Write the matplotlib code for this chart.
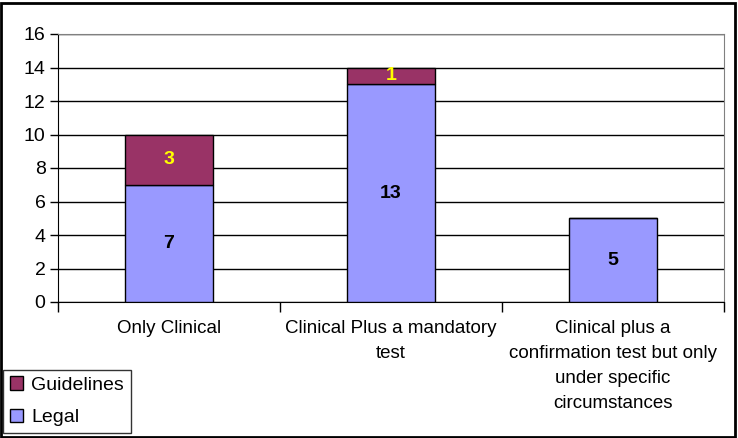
import matplotlib
matplotlib.use("Agg")
import matplotlib.pyplot as plt
from matplotlib.patches import Rectangle

plt.rcParams['font.family'] = ['Liberation Sans', 'DejaVu Sans']

categories = ["Only Clinical", "Clinical Plus a mandatory\ntest",
              "Clinical plus a\nconfirmation test but only\nunder specific\ncircumstances"]
legal = [7, 13, 5]
guidelines = [3, 1, 0]
yticks = [0, 2, 4, 6, 8, 10, 12, 14, 16]

W, H = 738, 438
fig = plt.figure(figsize=(W/100, H/100), dpi=100)
ax = fig.add_axes([58/W, 1-302/H, (724-58)/W, (302-34)/H])

x = list(range(len(categories)))
c_legal = '#9999FF'
c_guid = '#993366'
ax.bar(x, legal, width=0.4, color=c_legal, edgecolor='black', linewidth=1, label='Legal', zorder=3)
ax.bar(x, guidelines, width=0.4, bottom=legal, color=c_guid, edgecolor='black', linewidth=1, label='Guidelines', zorder=3)

for i in x:
    if legal[i]:
        ax.text(i, legal[i]/2, str(legal[i]), ha='center', va='center', fontsize=14, fontweight='bold', color='black', zorder=4)
    if guidelines[i]:
        ax.text(i, legal[i] + guidelines[i]/2, str(guidelines[i]), ha='center', va='center', fontsize=14, fontweight='bold', color='#FFFF00', zorder=4)

ax.set_xlim(-0.5, 2.5)
ax.set_ylim(0, 16)
ax.set_yticks(yticks)
ax.tick_params(axis='y', labelsize=14, length=6, width=1, direction='out', color='black', pad=3)
ax.yaxis.grid(True, color='black', linewidth=1, zorder=0)
ax.set_axisbelow(True)
ax.set_xticks([-0.5, 0.5, 1.5, 2.5])
ax.set_xticklabels([])
ax.tick_params(axis='x', length=7, width=1, direction='out', color='black')
for i, c in enumerate(categories):
    ax.text(i, -1.1, c, ha='center', va='top', fontsize=13.5, linespacing=1.6)

for s in ['top', 'right']:
    ax.spines[s].set_color('#808080')
ax.spines['left'].set_color('black')
ax.spines['bottom'].set_color('black')

# figure border
fig.patches.append(Rectangle((1/W, 1/H), (W-4)/W, (H-4)/H, transform=fig.transFigure,
                             fill=False, edgecolor='black', linewidth=2))

handles, labels = ax.get_legend_handles_labels()
leg = fig.legend(handles[::-1], labels[::-1], loc='lower left', bbox_to_anchor=(3/W, 5/H),
                 fontsize=14, frameon=True, fancybox=False, edgecolor='black',
                 handlelength=0.7, handleheight=0.7, handletextpad=0.4, borderpad=0.35,
                 labelspacing=0.75, borderaxespad=0)
leg.get_frame().set_linewidth(1)

fig.savefig('out.png', dpi=100)
